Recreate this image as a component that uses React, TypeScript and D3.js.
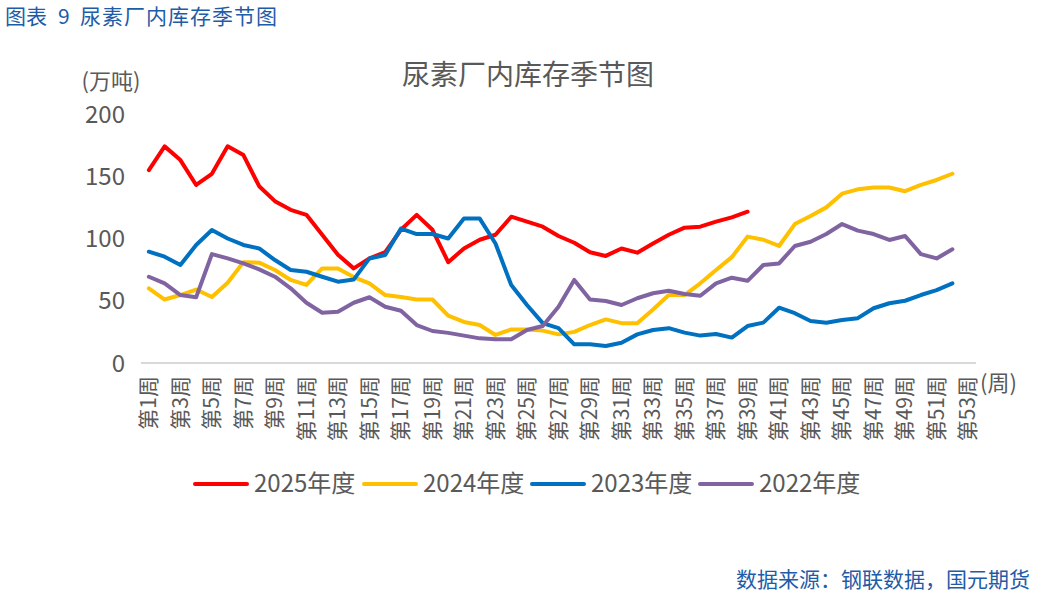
import React from "react";
import * as d3 from "d3";

const weeks: string[] = d3.range(1, 54).map((i) => `第${i}周`);
const yTicks: number[] = [0, 50, 100, 150, 200];

const s2025: number[] = [
  155, 174, 163, 143, 152, 174, 167, 142, 130, 123, 119, 103, 87, 76, 84, 89, 107, 119, 107, 81,
  92, 99, 103, 117.5, 113.5, 109.5, 102, 96.6, 89, 86, 92, 88.6, 96, 103, 108.7, 109.5, 113.5, 117, 121.5,
];
const s2024: number[] = [
  60, 51, 54.6, 59, 53, 64.5, 81, 80.6, 74.7, 66.7, 62.7, 76, 76, 69, 64, 54.6, 53, 51, 51, 38,
  33, 30.5, 22.5, 27, 27, 26, 23, 25, 30.5, 35, 32, 32, 43, 54.6, 54.6, 64, 74.7, 85, 101.5, 99,
  94, 111.6, 118, 125, 136, 139.5, 141, 141, 138, 143, 147, 152,
];
const s2023: number[] = [
  89.4, 85.4, 78.7, 94.8, 106.8, 100, 94.8, 92, 82.7, 74.7, 73.3, 69.3, 65.3, 67, 84, 86.7, 108, 103.6, 103.6, 100,
  116, 116, 96, 62.6, 46.6, 32, 28, 15, 15, 13.7, 16.3, 23, 26.5, 28, 24.4, 22, 23.3, 20.4, 29.7, 32.4,
  44.4, 40, 33.7, 32.4, 34.5, 36, 44, 48, 50, 54.6, 58.6, 64,
];
const s2022: number[] = [
  69.3, 64, 54.6, 52.8, 87.5, 84, 80, 75.2, 69.3, 60, 48.4, 40.4, 41.2, 48.4, 52.8, 45.2, 42, 30.5, 25.7, 24.2,
  22, 19.8, 19, 19, 26.5, 29.7, 45.2, 66.7, 51, 49.8, 46.6, 52, 56, 58, 55.4, 54, 64, 68.5, 66, 78.7,
  80, 94, 97.4, 103.6, 111.6, 106.3, 103.6, 98.8, 102, 87.5, 84, 91.3,
];

const seriesNames: string[] = ["2025年度", "2024年度", "2023年度", "2022年度"];
const seriesColors: string[] = ["#FF0000", "#FFC000", "#0070C0", "#8064A2"];
const seriesData: number[][] = [s2025, s2024, s2023, s2022];

const FONT = "'Microsoft YaHei', 'Noto Sans CJK SC', 'Noto Sans', sans-serif";
const GRAY = "#595959";
const BLUE = "#1F5CA8";

export default function App() {
  const x = d3.scaleBand<string>().domain(weeks).range([141, 976]).padding(0);
  const y = d3.scaleLinear().domain([0, 200]).range([363, 114]);
  const cx = (i: number) => (x(weeks[i]) as number) + x.bandwidth() / 2;
  const line = d3
    .line<number>()
    .x((_, i) => cx(i))
    .y((d) => y(d));

  const legendX = [195, 364, 532, 700];

  return (
    <div style={{ position: "absolute", left: 0, top: 0 }}>
      <svg width={1048} height={592} style={{ display: "block", background: "#fff" }} fontFamily={FONT}>
        <text x={5} y={24} fill={BLUE} fontSize={21}>
          图表
        </text>
        <text x={58} y={24} fill={BLUE} fontSize={21}>
          9
        </text>
        <text x={80} y={24} fill={BLUE} fontSize={21} letterSpacing={1}>
          尿素厂内库存季节图
        </text>
        <text x={528} y={85} fill={GRAY} fontSize={28} textAnchor="middle">
          尿素厂内库存季节图
        </text>
        <text x={111} y={89} fill={GRAY} fontSize={22} textAnchor="middle">
          (万吨)
        </text>
        {yTicks.map((t) => (
          <text key={t} x={125} y={y(t)} dy="0.36em" fill={GRAY} fontSize={24} textAnchor="end">
            {t}
          </text>
        ))}
        <line x1={141} x2={976} y1={y(0)} y2={y(0)} stroke="#D9D9D9" strokeWidth={2} />
        {weeks.map((w, i) =>
          i % 2 === 0 ? (
            <text
              key={w}
              transform={`translate(${cx(i)},376) rotate(-90)`}
              fill={GRAY}
              fontSize={21}
              textAnchor="end"
              dy="0.35em"
            >
              {w}
            </text>
          ) : null
        )}
        <text x={980} y={391} fill={GRAY} fontSize={22}>
          (周)
        </text>
        {seriesData.map((d, k) => (
          <path
            key={seriesNames[k]}
            d={line(d) || ""}
            fill="none"
            stroke={seriesColors[k]}
            strokeWidth={4}
            strokeLinejoin="round"
            strokeLinecap="round"
          />
        ))}
        {seriesNames.map((n, k) => (
          <g key={n}>
            <line
              x1={legendX[k]}
              x2={legendX[k] + 52}
              y1={484}
              y2={484}
              stroke={seriesColors[k]}
              strokeWidth={4}
              strokeLinecap="round"
            />
            <text x={legendX[k] + 59} y={484} dy="0.35em" fill={GRAY} fontSize={24}>
              {n}
            </text>
          </g>
        ))}
        <text x={1030} y={587} fill={BLUE} fontSize={21} textAnchor="end">
          数据来源：钢联数据，国元期货
        </text>
      </svg>
    </div>
  );
}
